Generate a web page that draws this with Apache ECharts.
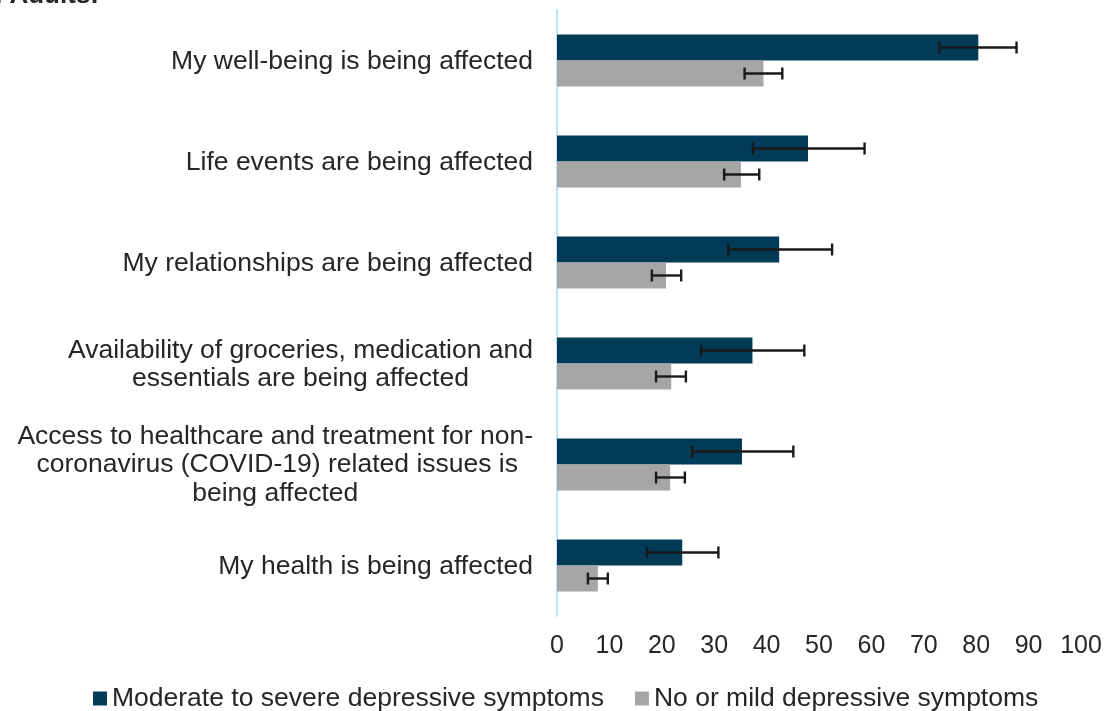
<!DOCTYPE html>
<html>
<head>
<meta charset="utf-8">
<script src="https://cdn.jsdelivr.net/npm/echarts@6/dist/echarts.min.js"></script>
<style>
  html, body { margin: 0; padding: 0; background: #ffffff; }
  #chart { width: 1107px; height: 711px; }
</style>
</head>
<body>
<div id="chart"></div>
<script>
// Reported effects, top to bottom
const categories = [
  'My well-being is being affected',
  'Life events are being affected',
  'My relationships are being affected',
  'Availability of groceries, medication and\nessentials are being affected',
  'Access to healthcare and treatment for non-\ncoronavirus (COVID-19) related issues is\nbeing affected',
  'My health is being affected'
];

const seriesNames = ['Moderate to severe depressive symptoms', 'No or mild depressive symptoms'];

// Percentages with 95% confidence intervals
const moderateSevere = [80.4, 47.9, 42.4, 37.3, 35.3, 23.9];
const moderateSevereLow = [73.0, 37.4, 32.7, 27.5, 25.8, 17.2];
const moderateSevereHigh = [87.7, 58.7, 52.5, 47.2, 45.1, 30.8];

const noneMild = [39.4, 35.1, 20.8, 21.8, 21.6, 7.8];
const noneMildLow = [35.8, 31.9, 18.1, 18.9, 18.9, 5.9];
const noneMildHigh = [43.0, 38.6, 23.7, 24.6, 24.4, 9.7];

const xTicks = [0, 10, 20, 30, 40, 50, 60, 70, 80, 90, 100];

const BAR_W = 26;
const FONT = 'Liberation Sans, Arial, sans-serif';
const LABEL_SIZE = 26.5;

// whiskers drawn at the centre of each bar in a pair
function errorBars(lows, highs, offset) {
  return {
    type: 'custom',
    silent: true,
    z: 5,
    data: lows.map((lo, i) => [i, lo, highs[i]]),
    encode: { y: 0, x: [1, 2] },
    renderItem: function (params, api) {
      const idx = api.value(0);
      const p1 = api.coord([api.value(1), idx]);
      const p2 = api.coord([api.value(2), idx]);
      const y = p1[1] + offset;
      const cap = 6;
      const st = { stroke: '#1a1a1a', lineWidth: 2.4 };
      return {
        type: 'group',
        children: [
          { type: 'line', shape: { x1: p1[0], y1: y, x2: p2[0], y2: y }, style: st },
          { type: 'line', shape: { x1: p1[0], y1: y - cap, x2: p1[0], y2: y + cap }, style: st },
          { type: 'line', shape: { x1: p2[0], y1: y - cap, x2: p2[0], y2: y + cap }, style: st }
        ]
      };
    }
  };
}

// per-line styles for the wrapped category labels
const lineStyle = { fontSize: LABEL_SIZE, fontFamily: FONT, color: '#262626', lineHeight: 29.5 };
const labelRich = {
  r: Object.assign({ align: 'right', padding: [3, 0, 0, 0] }, lineStyle),
  c: Object.assign({ align: 'center' }, lineStyle),
  r3: Object.assign({ align: 'right', padding: [0, 15, 0, 0] }, lineStyle)
};

function formatLabel(value) {
  const lines = value.split('\n');
  if (lines.length === 1) return '{r|' + value + '}';
  if (lines.length === 2) return '{r|' + lines[0] + '}\n{c|' + lines[1] + '}';
  return '{r|' + lines[0] + '}\n{r3|' + lines[1] + '}\n{c|' + lines[2] + '}';
}

const chart = echarts.init(document.getElementById('chart'), null, { renderer: 'canvas' });

chart.setOption({
  animation: false,
  backgroundColor: '#ffffff',
  textStyle: { fontFamily: FONT },
  graphic: [{
    type: 'text',
    style: {
      text: 'in Adults:',
      x: 99,
      y: -4.5,
      align: 'right',
      verticalAlign: 'middle',
      font: 'bold 26px ' + FONT,
      fill: '#262626'
    }
  }],
  grid: { left: 557, right: 26, top: 10, bottom: 95, containLabel: false },
  legend: {
    data: seriesNames,
    left: 88,
    bottom: -6,
    icon: 'rect',
    itemWidth: 14,
    itemHeight: 14,
    itemGap: 31,
    textStyle: { fontSize: LABEL_SIZE, color: '#262626', fontFamily: FONT }
  },
  xAxis: {
    type: 'value',
    min: xTicks[0],
    max: xTicks[xTicks.length - 1],
    interval: 10,
    axisLine: { show: false },
    axisTick: { show: false },
    splitLine: { show: false },
    axisLabel: { fontSize: 25, color: '#262626', margin: 18, fontFamily: FONT }
  },
  yAxis: {
    type: 'category',
    data: categories,
    inverse: true,
    axisLine: { show: true, lineStyle: { color: '#BEE3F8', width: 2 } },
    axisTick: { show: false },
    axisLabel: { margin: 24, formatter: formatLabel, rich: labelRich }
  },
  series: [
    {
      name: seriesNames[0],
      type: 'bar',
      data: moderateSevere,
      barWidth: BAR_W,
      barGap: '0%',
      itemStyle: { color: '#023B58' }
    },
    {
      name: seriesNames[1],
      type: 'bar',
      data: noneMild,
      barWidth: BAR_W,
      barGap: '0%',
      itemStyle: { color: '#A6A6A6' }
    },
    errorBars(moderateSevereLow, moderateSevereHigh, -BAR_W / 2),
    errorBars(noneMildLow, noneMildHigh, BAR_W / 2)
  ]
});
</script>
</body>
</html>
